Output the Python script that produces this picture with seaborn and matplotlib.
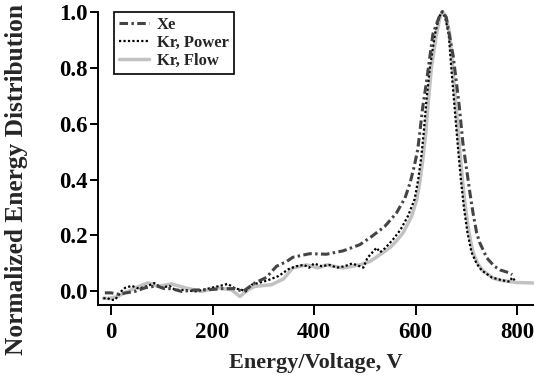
import numpy as np
import pandas as pd
import matplotlib
matplotlib.use("Agg")
import matplotlib.pyplot as plt
import seaborn as sns

# ---- data ----
xe_x = [-12, 0, 15, 30, 47, 67, 90, 105, 119, 139, 165, 191, 220, 244, 260, 283, 306,
        326, 346, 358, 378, 392, 424, 457, 490, 513, 539, 562, 579, 589, 597, 604, 608,
        614, 621, 634, 648, 653, 660, 674, 686, 693, 700, 707, 713, 720, 726, 740, 755,
        766, 785, 790]
xe_y = [-0.005, -0.005, -0.01, -0.005, 0.0, 0.013, 0.02, 0.01, 0.01, 0.0, 0.005, 0.006,
        0.01, 0.01, 0.0, 0.03, 0.05, 0.09, 0.107, 0.122, 0.13, 0.135, 0.133, 0.145, 0.167,
        0.196, 0.232, 0.28, 0.334, 0.388, 0.446, 0.506, 0.566, 0.66, 0.745, 0.92, 0.99,
        1.0, 0.98, 0.84, 0.66, 0.53, 0.44, 0.35, 0.28, 0.21, 0.175, 0.12, 0.09, 0.077,
        0.066, 0.06]

power_x = [-15, -8, 0, 8, 20, 28, 41, 55, 73, 85, 100, 115, 126, 145, 165, 180, 198, 215,
           230, 245, 257, 265, 277, 290, 309, 330, 350, 365, 380, 390, 400, 415, 430, 445,
           460, 475, 490, 497, 505, 515, 523, 530, 540, 555, 570, 585, 598, 605, 611, 616,
           621, 628, 638, 646, 652, 658, 665, 671, 677, 683, 689, 695, 702, 710, 720, 730,
           750, 770, 785, 790, 795]
power_y = [-0.025, -0.023, -0.03, -0.03, 0.0, 0.013, 0.02, 0.01, 0.02, 0.03, 0.013, 0.02,
           0.006, 0.005, 0.0, 0.005, 0.013, 0.02, 0.027, 0.01, 0.006, 0.0, 0.024, 0.03,
           0.04, 0.055, 0.08, 0.09, 0.095, 0.085, 0.1, 0.09, 0.095, 0.085, 0.09, 0.1, 0.09,
           0.085, 0.12, 0.14, 0.156, 0.14, 0.155, 0.185, 0.22, 0.27, 0.33, 0.4, 0.48, 0.57,
           0.68, 0.8, 0.92, 0.98, 1.0, 0.98, 0.92, 0.78, 0.65, 0.52, 0.4, 0.3, 0.21, 0.14,
           0.1, 0.075, 0.05, 0.04, 0.035, 0.05, 0.04]

flow_x = [-15, -5, 10, 33, 55, 73, 93, 119, 146, 178, 210, 237, 254, 270, 283, 316, 340,
          358, 385, 408, 424, 457, 490, 510, 535, 549, 562, 575, 592, 602, 608, 614, 620,
          624, 631, 641, 648, 653, 660, 667, 674, 680, 686, 692, 698, 705, 713, 722, 732,
          752, 766, 799, 835]
flow_y = [-0.024, -0.025, -0.02, 0.0, 0.018, 0.031, 0.018, 0.027, 0.013, 0.0, 0.013,
          0.006, -0.018, 0.006, 0.018, 0.024, 0.045, 0.084, 0.095, 0.084, 0.095, 0.084,
          0.095, 0.107, 0.138, 0.156, 0.18, 0.209, 0.268, 0.327, 0.388, 0.47, 0.566, 0.66,
          0.8, 0.92, 0.98, 1.0, 0.98, 0.92, 0.78, 0.65, 0.52, 0.4, 0.3, 0.21, 0.14, 0.1,
          0.075, 0.048, 0.04, 0.032, 0.03]

labels = ["Xe", "Kr, Power", "Kr, Flow"]
x_ticks = [0, 200, 400, 600, 800]
y_ticks = [0.0, 0.2, 0.4, 0.6, 0.8, 1.0]

# ---- style ----
sns.set_style("ticks")
plt.rcParams["font.family"] = ["Liberation Serif", "DejaVu Serif"]
plt.rcParams["font.weight"] = "bold"
plt.rcParams["axes.labelweight"] = "bold"

fig = plt.figure(figsize=(5.34, 3.75), dpi=100)
ax = fig.add_axes([0.184, 0.187, 0.816, 0.782])

df_flow = pd.DataFrame({"x": flow_x, "y": flow_y})
df_power = pd.DataFrame({"x": power_x, "y": power_y})
df_xe = pd.DataFrame({"x": xe_x, "y": xe_y})

sns.lineplot(data=df_flow, x="x", y="y", ax=ax, color="#c2c2c2", lw=2.5,
             label=labels[2], sort=False, zorder=2)
sns.lineplot(data=df_power, x="x", y="y", ax=ax, color="black", lw=1.6,
             linestyle=(0, (1, 1)), label=labels[1], sort=False, zorder=3)
sns.lineplot(data=df_xe, x="x", y="y", ax=ax, color="#444444", lw=2.2,
             linestyle=(0, (2.8, 1.1, 0.8, 1.1)), label=labels[0], sort=False, zorder=4)

ax.set_xlim(-25, 833)
ax.set_ylim(-0.048, 1.0)
ax.set_xticks(x_ticks)
ax.set_xticklabels([str(t) for t in x_ticks])
ax.set_yticks(y_ticks)
ax.set_yticklabels([f"{t:.1f}" for t in y_ticks])
for l in ax.get_lines():
    l.set_clip_on(False)

sns.despine(ax=ax)
for s in ["left", "bottom"]:
    ax.spines[s].set_linewidth(1.4)
    ax.spines[s].set_color("black")
ax.tick_params(axis="both", direction="out", width=1.4, colors="black", labelsize=16.5)
ax.tick_params(axis="x", length=7.2, pad=5)
ax.tick_params(axis="y", length=6, pad=1.5)
for t in ax.get_xticklabels() + ax.get_yticklabels():
    t.set_fontweight("bold")

ax.set_xlabel("Energy/Voltage, V", fontsize=16, fontweight="bold", labelpad=7)
ax.set_ylabel("Normalized Energy Distribution", fontsize=18.3, fontweight="bold")
ax.yaxis.set_label_coords(-0.161, 0.426)

handles, labs = ax.get_legend_handles_labels()
order = [labs.index(n) for n in labels]
leg = ax.legend([handles[i] for i in order], [labs[i] for i in order],
                loc="upper left", bbox_to_anchor=(0.035, 0.998), frameon=True,
                fancybox=False, edgecolor="black", framealpha=1,
                prop={"family": ["Liberation Serif"], "weight": "bold", "size": 12},
                handlelength=1.8, handletextpad=0.5, borderpad=0.3, labelspacing=0.1,
                borderaxespad=0)
leg.get_frame().set_linewidth(1.2)

fig.savefig("out.png", dpi=100)
